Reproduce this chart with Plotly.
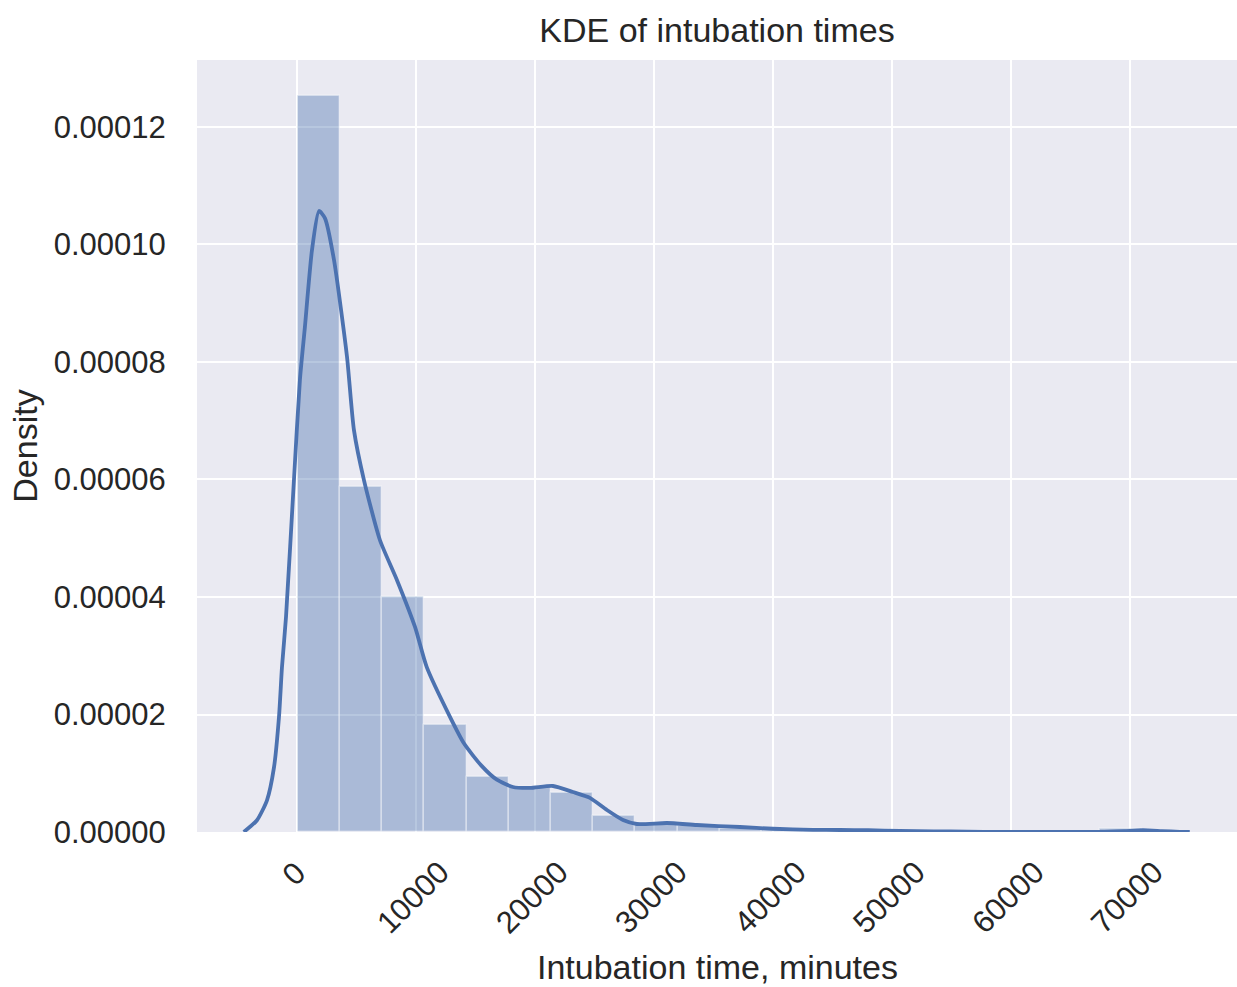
import plotly.graph_objects as go

# ---- data ----
bin_edges = [50, 3600, 7150, 10700, 14250, 17800, 21350, 24900, 28450, 32000,
             35550, 39100, 42650, 46200, 49750, 53300, 56850, 60400, 63950, 67500, 71050]
hist_density = [1.253e-4, 5.88e-5, 4.00e-5, 1.82e-5, 9.4e-6, 7.6e-6, 6.6e-6, 2.8e-6,
                1.5e-6, 1.0e-6, 0.5e-6, 0.5e-6, 0.5e-6, 0.3e-6, 0.0, 0.0, 0.0, 0.0, 0.0, 0.5e-6]

kde_x = [-4470, -3360, -2520, -1930, -1510, -1260, -920, -250, 250, 670, 1260, 1850, 2350,
         3110, 4200, 4790, 5630, 6970, 8400, 9920, 10900, 12860, 14030, 15500, 16800,
         18150, 19580, 21510, 23190, 24620, 26050, 27400, 28570, 31090, 33610, 37230,
         40000, 43360, 45630, 48000, 50670, 53500, 56300, 59080, 63000, 67480, 69500,
         71090, 72700, 74200, 75030]
kde_y = [0.0, 2.0e-6, 5.4e-6, 1.1e-5, 1.96e-5, 2.8e-5, 3.66e-5, 6.0e-5, 7.7e-5, 8.6e-5,
         9.9e-5, 1.057e-4, 1.045e-4, 9.74e-5, 8.1e-5, 6.84e-5, 5.99e-5, 4.97e-5, 4.29e-5,
         3.49e-5, 2.81e-5, 1.96e-5, 1.51e-5, 1.13e-5, 8.9e-6, 7.66e-6, 7.5e-6, 7.83e-6,
         6.8e-6, 5.8e-6, 3.74e-6, 2.04e-6, 1.36e-6, 1.53e-6, 1.19e-6, 0.85e-6, 0.55e-6,
         0.36e-6, 0.34e-6, 0.3e-6, 0.2e-6, 0.12e-6, 0.05e-6, 0.01e-6, 0.0, 0.02e-6,
         0.15e-6, 0.3e-6, 0.15e-6, 0.02e-6, 0.0]

x_tick_vals = [0, 10000, 20000, 30000, 40000, 50000, 60000, 70000]
x_tick_text = ["0", "10000", "20000", "30000", "40000", "50000", "60000", "70000"]
y_tick_vals = [0, 0.00002, 0.00004, 0.00006, 0.00008, 0.00010, 0.00012]
y_tick_text = ["0.00000", "0.00002", "0.00004", "0.00006", "0.00008", "0.00010", "0.00012"]

title_text = "KDE of intubation times"
x_label = "Intubation time, minutes"
y_label = "Density"

# ---- styling ----
BLUE = "#4c72b0"
TEXT = "#262626"
FONT = "Liberation Sans, Arial, sans-serif"

centers = [(bin_edges[i] + bin_edges[i + 1]) / 2 for i in range(len(hist_density))]
widths = [bin_edges[i + 1] - bin_edges[i] for i in range(len(hist_density))]

fig = go.Figure()
fig.add_trace(go.Bar(
    x=centers, y=hist_density, width=widths,
    marker=dict(color="rgba(76,114,176,0.4)",
                line=dict(color="rgba(255,255,255,0.4)", width=1.5)),
    showlegend=False, hoverinfo="skip",
))
fig.add_trace(go.Scatter(
    x=kde_x, y=kde_y, mode="lines",
    line=dict(color=BLUE, width=3.8, shape="spline", smoothing=0.6),
    showlegend=False,
))

annotations = []
for v, t in zip(x_tick_vals, x_tick_text):
    annotations.append(dict(
        x=v, y=0, xref="x", yref="paper", text=t, showarrow=False,
        textangle=-45, xanchor="center", yanchor="top", yshift=-20, xshift=-3,
        font=dict(family=FONT, size=31, color=TEXT),
    ))
annotations.append(dict(
    x=0.5, y=0, xref="paper", yref="paper", text=x_label, showarrow=False,
    xanchor="center", yanchor="top", yshift=-114,
    font=dict(family=FONT, size=34, color=TEXT),
))

fig.update_layout(
    width=1237, height=987,
    margin=dict(l=197, r=0, t=60, b=155),
    paper_bgcolor="white",
    plot_bgcolor="#eaeaf2",
    bargap=0,
    font=dict(family=FONT, size=31, color=TEXT),
    title=dict(text=title_text, x=(197 + 1237) / 2 / 1237, xanchor="center",
               y=1 - 30 / 987, yanchor="middle",
               font=dict(family=FONT, size=34, color=TEXT)),
    annotations=annotations,
)
fig.update_xaxes(
    range=[-8400, 79000], tickvals=x_tick_vals, showticklabels=False,
    showgrid=True, gridcolor="white", gridwidth=2, zeroline=False,
    showline=False,
)
fig.update_yaxes(
    range=[0, 0.0001314], tickvals=y_tick_vals, ticktext=y_tick_text,
    showgrid=True, gridcolor="white", gridwidth=2, zeroline=False,
    showline=False, ticks="outside", ticklen=24, tickcolor="rgba(0,0,0,0)",
    tickfont=dict(family=FONT, size=31, color=TEXT),
    title=dict(text=y_label, standoff=5, font=dict(family=FONT, size=34, color=TEXT)),
)

fig.write_html(
    "out.html",
    config={"displayModeBar": False},
    post_script=("document.documentElement.style.margin='0';"
                 "document.body.style.margin='0';"
                 "document.body.style.overflow='hidden';"),
)
